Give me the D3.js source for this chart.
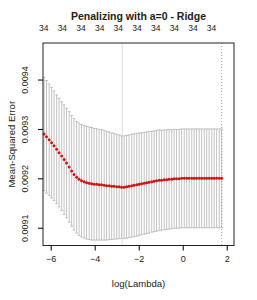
<!DOCTYPE html>
<html>
<head>
<meta charset="utf-8">
<script src="https://cdn.jsdelivr.net/npm/d3@7"></script>
<style>
  body { margin: 0; background: #fff; }
  text { font-family: "Liberation Sans", Arial, sans-serif; fill: #222; }
</style>
</head>
<body>
<div id="chart"></div>
<script>
// log(lambda) grid, cross-validated MSE and its standard error
var logLambda = [-6.30, -6.19, -6.07, -5.96, -5.85, -5.73, -5.62, -5.50, -5.39, -5.28,
  -5.16, -5.05, -4.94, -4.82, -4.71, -4.60, -4.48, -4.37, -4.25, -4.14,
  -4.03, -3.91, -3.80, -3.69, -3.57, -3.46, -3.34, -3.23, -3.12, -3.00,
  -2.89, -2.78, -2.66, -2.55, -2.44, -2.32, -2.21, -2.09, -1.98, -1.87,
  -1.75, -1.64, -1.53, -1.41, -1.30, -1.19, -1.07, -0.96, -0.84, -0.73,
  -0.62, -0.50, -0.39, -0.28, -0.16, -0.05, 0.07, 0.18, 0.29, 0.41,
  0.52, 0.63, 0.75, 0.86, 0.98, 1.09, 1.20, 1.32, 1.43, 1.54,
  1.66, 1.77];

var cvm = [0.009290, 0.009284, 0.009278, 0.009272, 0.009266, 0.009259, 0.009252, 0.009245, 0.009238, 0.009231,
  0.009223, 0.009215, 0.009208, 0.009202, 0.009198, 0.009195, 0.009193, 0.009191, 0.009190, 0.009189,
  0.009188, 0.009188, 0.009187, 0.009187, 0.009186, 0.009185, 0.009185, 0.009184, 0.009184, 0.009183,
  0.009183, 0.009182, 0.009182, 0.009183, 0.009184, 0.009185, 0.009186, 0.009187, 0.009188, 0.009189,
  0.009190, 0.009191, 0.009192, 0.009193, 0.009194, 0.009195, 0.009196, 0.009196, 0.009197, 0.009197,
  0.009198, 0.009198, 0.009199, 0.009199, 0.009199, 0.009200, 0.009200, 0.009200, 0.009200, 0.009200,
  0.009200, 0.009200, 0.009200, 0.009200, 0.009200, 0.009200, 0.009200, 0.009200, 0.009200, 0.009200,
  0.009200, 0.009200];

var cvsd = [0.000115, 0.000114, 0.000113, 0.000112, 0.000111, 0.000110, 0.000110, 0.000110, 0.000111, 0.000111,
  0.000112, 0.000112, 0.000113, 0.000113, 0.000114, 0.000114, 0.000114, 0.000114, 0.000114, 0.000114,
  0.000113, 0.000113, 0.000112, 0.000112, 0.000111, 0.000110, 0.000109, 0.000108, 0.000107, 0.000106,
  0.000105, 0.000104, 0.000104, 0.000104, 0.000104, 0.000104, 0.000104, 0.000104, 0.000104, 0.000103,
  0.000103, 0.000103, 0.000103, 0.000102, 0.000102, 0.000102, 0.000102, 0.000101, 0.000101, 0.000101,
  0.000101, 0.000100, 0.000100, 0.000100, 0.000100, 0.000100, 0.000100, 0.000100, 0.000100, 0.000100,
  0.000100, 0.000100, 0.000100, 0.000100, 0.000100, 0.000100, 0.000100, 0.000100, 0.000100, 0.000100,
  0.000100, 0.000100];

// number of nonzero coefficients shown along the top
var topLogLambda = [-6.32, -5.47, -4.62, -3.77, -2.93, -2.08, -1.23, -0.38, 0.47, 1.31];
var topNzero = ["34", "34", "34", "34", "34", "34", "34", "34", "34", "34"];

var xTicks = [-6, -4, -2, 0, 2];
var yTicks = [0.0091, 0.0092, 0.0093, 0.0094];

var lambdaMin = -2.75, lambda1se = 1.77;

var width = 257, height = 300;
var box = {left: 43, right: 234, top: 43, bottom: 245.5};

var svg = d3.select("#chart").append("svg")
    .attr("width", width)
    .attr("height", height);

var x = d3.scaleLinear().domain([-6.35, 2.33]).range([box.left, box.right]);
var y = d3.scaleLinear().domain([0.009064, 0.009474]).range([box.bottom, box.top]);

var data = logLambda.map(function(l, i) {
  return {l: l, m: cvm[i], up: cvm[i] + cvsd[i], lo: cvm[i] - cvsd[i]};
});

// error bars with small caps
var barw = (d3.max(logLambda) - d3.min(logLambda)) * 0.008;
var bars = svg.append("g").attr("stroke", "#b4b4b4").attr("stroke-width", 0.8);
bars.selectAll(".v").data(data).enter().append("line")
    .attr("x1", function(d) { return x(d.l); })
    .attr("x2", function(d) { return x(d.l); })
    .attr("y1", function(d) { return y(d.up); })
    .attr("y2", function(d) { return y(d.lo); });
bars.selectAll(".cu").data(data).enter().append("line")
    .attr("x1", function(d) { return x(d.l - barw); })
    .attr("x2", function(d) { return x(d.l + barw); })
    .attr("y1", function(d) { return y(d.up); })
    .attr("y2", function(d) { return y(d.up); });
bars.selectAll(".cl").data(data).enter().append("line")
    .attr("x1", function(d) { return x(d.l - barw); })
    .attr("x2", function(d) { return x(d.l + barw); })
    .attr("y1", function(d) { return y(d.lo); })
    .attr("y2", function(d) { return y(d.lo); });

// lambda.min and lambda.1se
svg.append("line")
    .attr("x1", x(lambdaMin)).attr("x2", x(lambdaMin))
    .attr("y1", box.top).attr("y2", box.bottom)
    .attr("stroke", "#d4d4d4").attr("stroke-width", 0.8);
svg.append("line")
    .attr("x1", x(lambda1se)).attr("x2", x(lambda1se))
    .attr("y1", box.top).attr("y2", box.bottom)
    .attr("stroke", "#888").attr("stroke-width", 0.8)
    .attr("stroke-dasharray", "1,2");

// mean CV error points
svg.append("g").selectAll("circle").data(data).enter().append("circle")
    .attr("cx", function(d) { return x(d.l); })
    .attr("cy", function(d) { return y(d.m); })
    .attr("r", 1.5)
    .attr("fill", "#d01414");

// box
svg.append("rect")
    .attr("x", box.left).attr("y", box.top)
    .attr("width", box.right - box.left).attr("height", box.bottom - box.top)
    .attr("fill", "none").attr("stroke", "#222").attr("stroke-width", 1);

// bottom axis
var xAxis = svg.append("g")
    .attr("transform", "translate(0," + box.bottom + ")")
    .call(d3.axisBottom(x).tickValues(xTicks).tickSize(5).tickPadding(5));
xAxis.select(".domain").remove();
xAxis.selectAll("text").style("font-size", "9px").attr("fill", "#333");

// left axis, labels rotated like R
var yAxis = svg.append("g")
    .attr("transform", "translate(" + box.left + ",0)")
    .call(d3.axisLeft(y).tickValues(yTicks).tickSize(5).tickFormat(d3.format(".4f")));
yAxis.select(".domain").remove();
yAxis.selectAll("text")
    .style("font-size", "9px").attr("fill", "#333")
    .attr("x", null).attr("dy", null)
    .attr("text-anchor", "middle")
    .attr("transform", "translate(-15,0) rotate(-90)");

// top labels
svg.append("g").selectAll("text").data(topLogLambda).enter().append("text")
    .attr("x", function(d) { return x(d); })
    .attr("y", 31)
    .attr("text-anchor", "middle")
    .style("font-size", "8.5px").attr("fill", "#333")
    .text(function(d, i) { return topNzero[i]; });

// titles
svg.append("text")
    .attr("x", (box.left + box.right) / 2).attr("y", 20)
    .attr("text-anchor", "middle")
    .style("font-size", "10.5px").style("font-weight", "bold")
    .text("Penalizing with a=0 - Ridge");
svg.append("text")
    .attr("x", (box.left + box.right) / 2).attr("y", 287)
    .attr("text-anchor", "middle")
    .style("font-size", "9.5px")
    .text("log(Lambda)");
svg.append("text")
    .attr("transform", "translate(15," + ((box.top + box.bottom) / 2) + ") rotate(-90)")
    .attr("text-anchor", "middle")
    .style("font-size", "9.5px")
    .text("Mean-Squared Error");
</script>
</body>
</html>
